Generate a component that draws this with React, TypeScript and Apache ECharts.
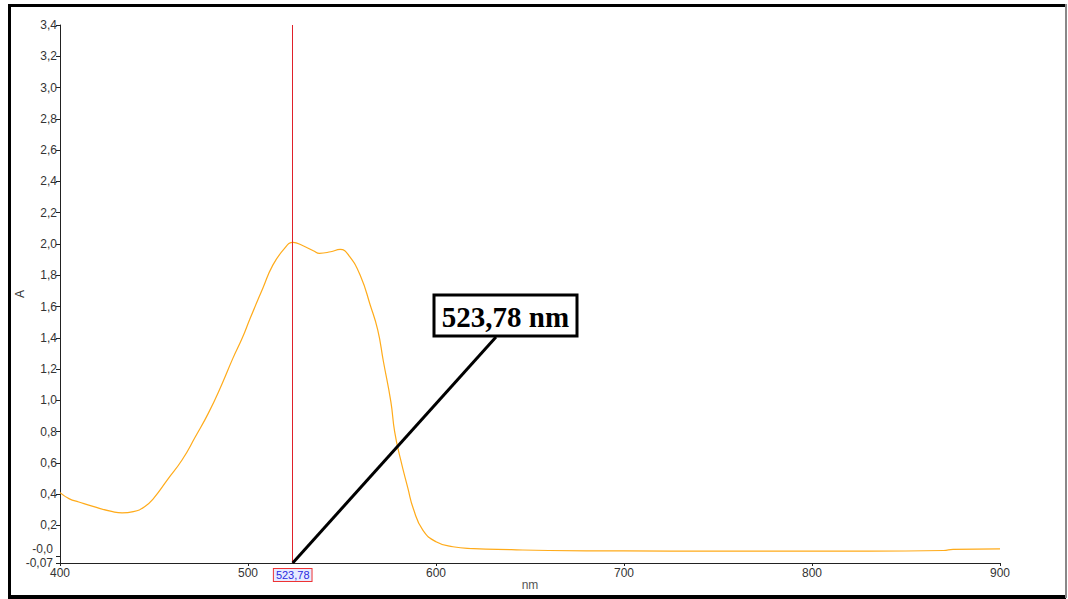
import React, { useEffect, useRef } from "react";
import * as echarts from "echarts";

const wavelengths = [400, 405, 410, 418, 428, 433, 439, 445, 450, 457, 465, 472, 479, 486, 492, 497, 501, 508, 513, 519, 524, 529, 535, 538, 544, 549, 554, 560, 565, 569, 572, 576, 578, 581, 585, 588, 593, 600, 609, 620, 640, 660, 700, 750, 800, 830, 870, 875, 900];
const absorbance = [0.41, 0.37, 0.35, 0.32, 0.288, 0.28, 0.288, 0.32, 0.377, 0.49, 0.62, 0.767, 0.92, 1.1, 1.27, 1.4, 1.52, 1.72, 1.86, 1.965, 2.01, 1.99, 1.955, 1.94, 1.95, 1.965, 1.92, 1.79, 1.61, 1.45, 1.25, 0.99, 0.8, 0.63, 0.44, 0.305, 0.17, 0.096, 0.064, 0.052, 0.045, 0.04, 0.037, 0.036, 0.036, 0.036, 0.04, 0.047, 0.05];
const yTickValues = [-0.04, 0, 0.2, 0.4, 0.6, 0.8, 1.0, 1.2, 1.4, 1.6, 1.8, 2.0, 2.2, 2.4, 2.6, 2.8, 3.0, 3.2, 3.4];
const yLabelValues = [0.2, 0.4, 0.6, 0.8, 1.0, 1.2, 1.4, 1.6, 1.8, 2.0, 2.2, 2.4, 2.6, 2.8, 3.0, 3.2, 3.4];
const yBottomLabels: [number, string][] = [[0, "-0,0"], [-0.04, "-0,07"]];
const peakWavelength = 523.78;
const peakLabel = "523,78";
const calloutLabel = "523,78 nm";
const xTicks = [400, 500, 600, 700, 800, 900];

export default function App() {
  const ref = useRef<HTMLDivElement>(null);
  useEffect(() => {
    document.body.style.margin = "0";
    const chart = echarts.init(ref.current!, null, { renderer: "svg" });
    const labelFont = { fontFamily: "Liberation Sans", fontSize: 12, color: "#333" };
    chart.setOption({
      animation: false,
      backgroundColor: "#fff",
      grid: { left: 60, right: 68, top: 25, bottom: 36, outerBoundsMode: "none", containLabel: false },
      xAxis: {
        type: "value",
        min: 400,
        max: 900,
        interval: 100,
        name: "nm",
        nameLocation: "middle",
        nameGap: 16,
        nameMoveOverlap: false,
        nameTextStyle: { ...labelFont, color: "#555" },
        axisLine: { show: true, onZero: false, lineStyle: { color: "#222", width: 1 } },
        axisTick: { show: true, length: 3, lineStyle: { color: "#222" } },
        axisLabel: { ...labelFont, margin: 4, showMinLabel: true, formatter: (v: number) => (xTicks.includes(v) ? String(v) : "") },
        splitLine: { show: false },
      },
      yAxis: {
        type: "value",
        min: -0.04,
        max: 3.4,
        name: "A",
        nameLocation: "middle",
        nameGap: 34,
        nameMoveOverlap: false,
        nameTextStyle: { ...labelFont, color: "#333" },
        axisLine: { show: true, onZero: false, lineStyle: { color: "#222", width: 1 } },
        axisTick: { show: true, length: 4, customValues: yTickValues, lineStyle: { color: "#222" } },
        axisLabel: {
          ...labelFont,
          margin: 3,
          customValues: yLabelValues,
          formatter: (v: number) => v.toFixed(1).replace(".", ","),
        },
        splitLine: { show: false },
      },
      series: [
        {
          type: "line",
          data: wavelengths.map((w, i) => [w, absorbance[i]]),
          smooth: 0.5,
          showSymbol: false,
          lineStyle: { color: "#ffab1a", width: 1.2 },
          markLine: {
            silent: true,
            symbol: "none",
            label: { show: false },
            lineStyle: { color: "#e0202a", width: 1, type: "solid", opacity: 1 },
            data: [{ xAxis: peakWavelength, lineStyle: { color: "#e0202a", width: 1, type: "solid" } }],
          },
        },
      ],
    });

    const [px, py] = chart.convertToPixel({ gridIndex: 0 }, [peakWavelength, -0.04]) as number[];
    const bottomTexts = yBottomLabels.map(([v, t], i) => {
      const [ax, ay] = chart.convertToPixel({ gridIndex: 0 }, [400, v]) as number[];
      return {
        type: "text",
        x: ax - 7,
        y: ay - (i === 0 ? 8 : 0),
        style: { text: t, font: "12px 'Liberation Sans'", fill: "#333", align: "right", verticalAlign: "middle" },
        z: 50,
      };
    });
    const boxX = 434, boxY = 295, boxW = 143, boxH = 41;
    chart.setOption({
      graphic: [
        ...bottomTexts,
        { type: "rect", shape: { x: 8, y: 4, width: 3, height: 595 }, style: { fill: "#000" }, z: 100 },
        { type: "rect", shape: { x: 8, y: 4, width: 1058, height: 3 }, style: { fill: "#000" }, z: 100 },
        { type: "rect", shape: { x: 8, y: 595, width: 1058, height: 4 }, style: { fill: "#000" }, z: 100 },
        { type: "rect", shape: { x: 1065, y: 4, width: 2, height: 594 }, style: { fill: "#888" }, z: 100 },
        {
          type: "line",
          shape: { x1: px, y1: py, x2: boxX + 62, y2: boxY + boxH + 1 },
          style: { stroke: "#000", lineWidth: 3 },
          z: 100,
        },
        {
          type: "rect",
          shape: { x: boxX, y: boxY, width: boxW, height: boxH },
          style: { fill: "#fff", stroke: "#000", lineWidth: 3 },
          z: 101,
        },
        {
          type: "text",
          x: boxX + boxW / 2,
          y: boxY + boxH / 2 + 1,
          style: {
            text: calloutLabel,
            font: "bold 29px 'Liberation Serif'",
            fill: "#000",
            align: "center",
            verticalAlign: "middle",
          },
          z: 102,
        },
        {
          type: "text",
          x: px,
          y: py + 12,
          style: {
            text: peakLabel,
            font: "11px 'Liberation Sans'",
            fill: "#2a2ae0",
            backgroundColor: "#e6eaff",
            borderColor: "#e33",
            borderWidth: 1,
            padding: [1, 2, 0, 2],
            align: "center",
            verticalAlign: "middle",
          },
          z: 102,
        },
      ],
    });
    return () => chart.dispose();
  }, []);
  return <div ref={ref} style={{ position: "absolute", left: 0, top: 0, width: 1068, height: 599 }} />;
}
